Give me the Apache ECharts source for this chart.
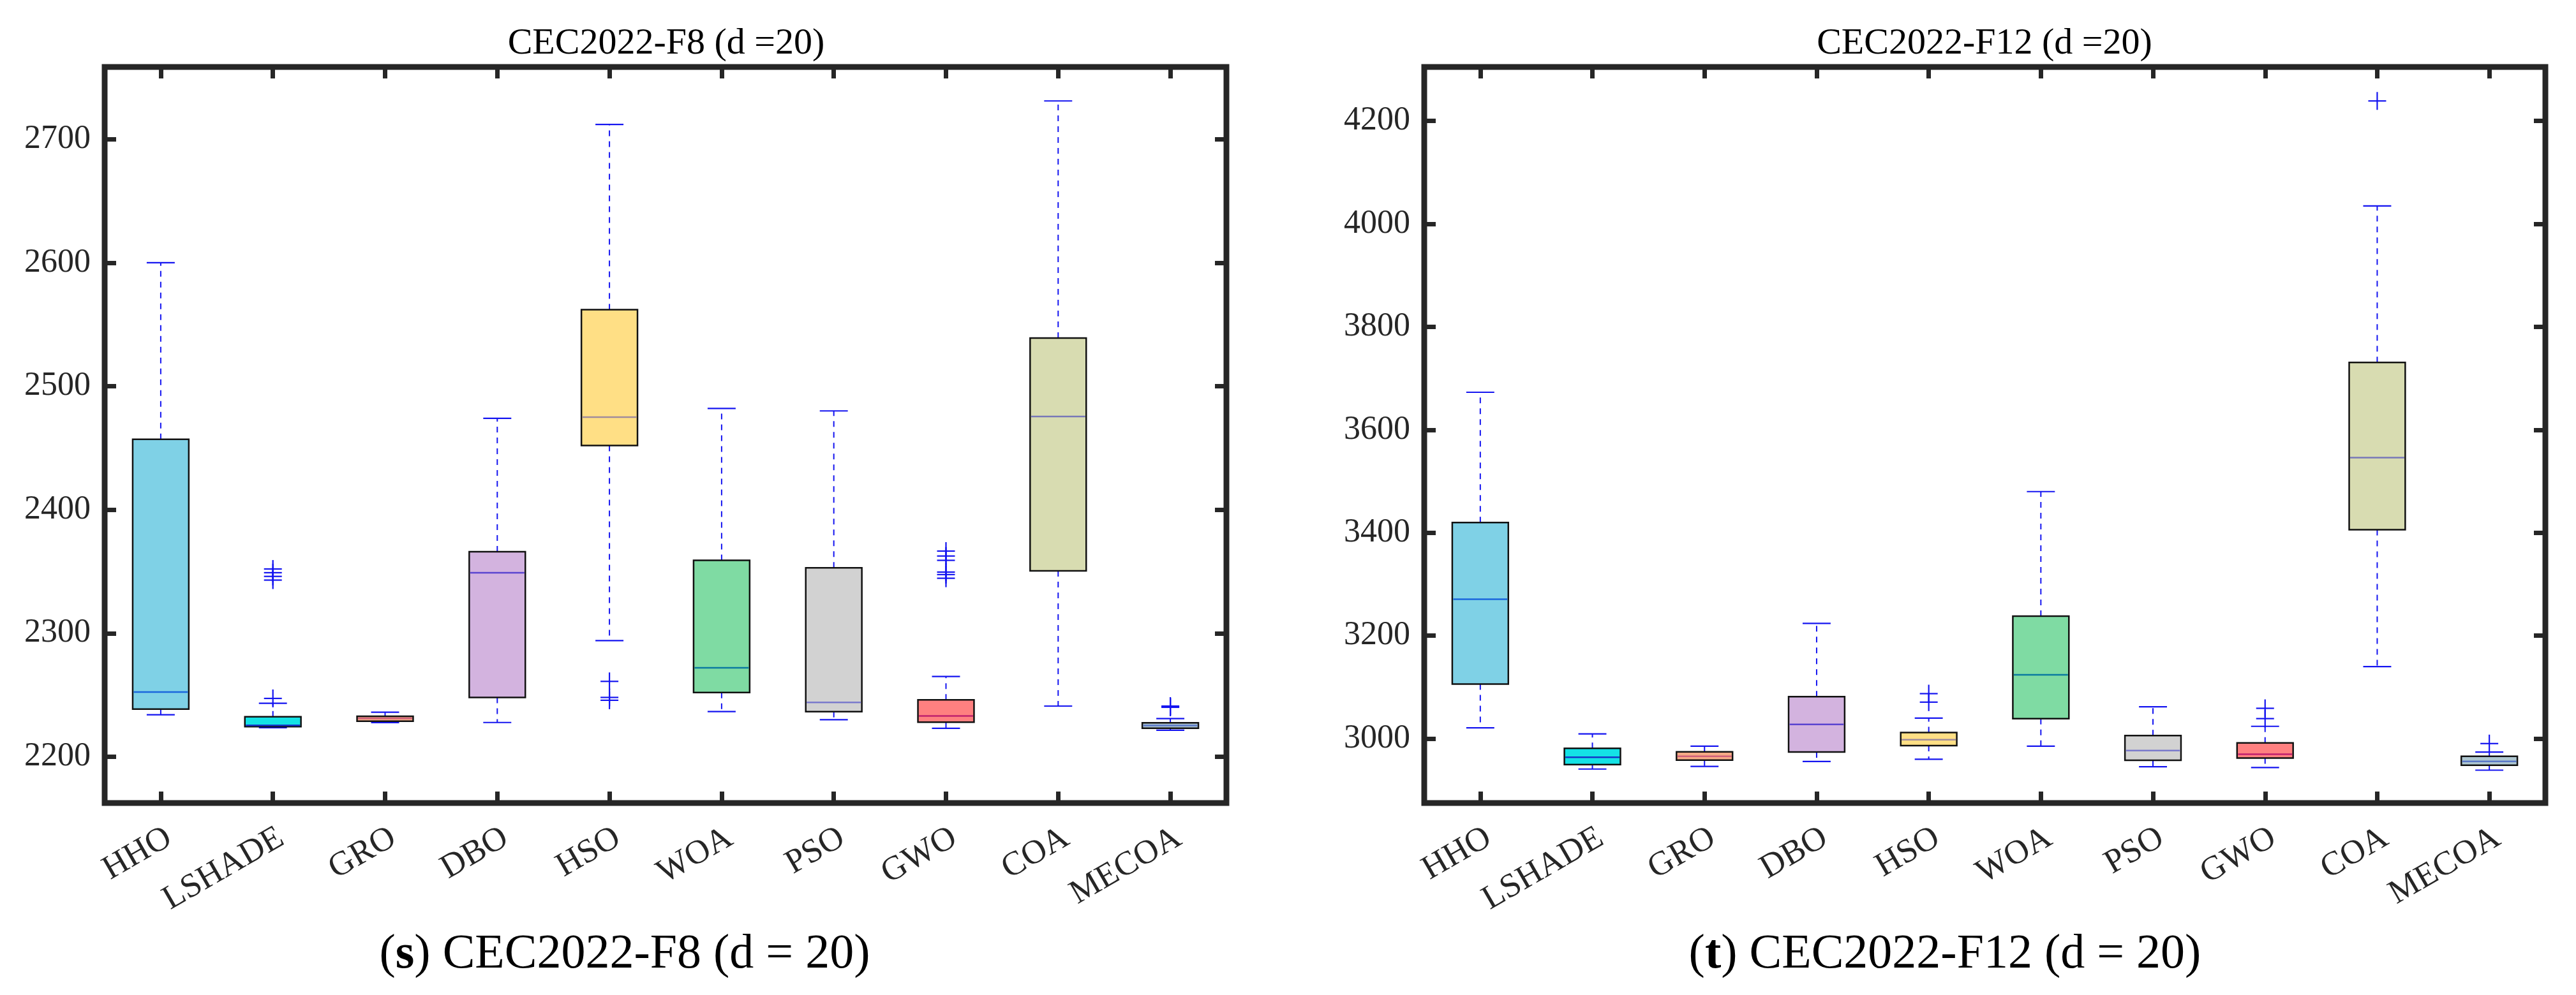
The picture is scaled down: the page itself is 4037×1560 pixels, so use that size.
<!DOCTYPE html>
<html>
<head>
<meta charset="utf-8">
<script src="https://cdn.jsdelivr.net/npm/echarts@6/dist/echarts.min.js"></script>
<style>
  html, body { margin: 0; padding: 0; background: #fff; }
  #main { width: 4037px; height: 1560px; }
</style>
</head>
<body>
<div id="main"></div>
<script>
var algos = ['HHO', 'LSHADE', 'GRO', 'DBO', 'HSO', 'WOA', 'PSO', 'GWO', 'COA', 'MECOA']

// box stats per algorithm: [lower whisker, q1, median, q3, upper whisker]
var f8Stats = [
    [2234, 2238.6, 2252.4, 2457, 2600],
    [2223.5, 2224.4, 2225.4, 2232.3, 2243.3],
    [2227.6, 2228.8, 2231, 2232.7, 2236],
    [2227.7, 2248, 2349, 2366, 2474],
    [2294, 2452, 2475, 2562, 2712],
    [2236.5, 2252, 2272, 2359, 2482],
    [2230, 2236.5, 2244, 2353, 2480],
    [2223, 2228, 2233, 2246, 2265],
    [2241, 2350.5, 2475.5, 2539, 2731],
    [2221.4, 2223.1, 2225.2, 2227.5, 2230.9]
]
var f8Outliers = [
    [],
    [2247.2, 2343, 2346, 2349, 2352],
    [],
    [],
    [2245.7, 2248, 2261],
    [],
    [],
    [2344.5, 2347.5, 2349.5, 2359, 2362.5, 2366.5],
    [],
    [2240, 2240.5, 2241]
]
var f12Stats = [
    [3021, 3106, 3271, 3420, 3673],
    [2941, 2949.6, 2964, 2981.4, 3009.4],
    [2946, 2958.3, 2965.7, 2974.4, 2985.5],
    [2955.8, 2974, 3027.6, 3081.7, 3224],
    [2960, 2986.4, 2998, 3012, 3040],
    [2985.5, 3039, 3124, 3238, 3480],
    [2945.5, 2958, 2977, 3006, 3062],
    [2944, 2962.4, 2969.8, 2991.7, 3024],
    [3140, 3406, 3546, 3731, 4035],
    [2938.8, 2948.3, 2955.8, 2965.7, 2974]
]
var f12Outliers = [
    [],
    [],
    [],
    [],
    [3071, 3087.5],
    [],
    [],
    [3039, 3059],
    [4239],
    [2990.5]
]
var f8Ticks = [2200, 2300, 2400, 2500, 2600, 2700]
var f12Ticks = [3000, 3200, 3400, 3600, 3800, 4000, 4200]
var f8Range = [2162.5, 2758.5]
var f12Range = [2875, 4305]

var fills = ['#7fd1e6', '#14e2e5', '#f5aa86', '#d3b3df', '#ffdf85', '#7fdba3', '#d2d2d2', '#ff8080', '#d8dcb1', '#aec6d0']
var medianColors = ['#1a66dd', '#1535c8', '#d0607a', '#5a44d0', '#a08c9c', '#0a7aa0', '#7a7acc', '#c0206e', '#7878b8', '#5a78c8']

var serif = "'Liberation Serif', 'Times New Roman', serif"
var whiskerColor = '#1414f0'
var frameColor = '#262626'

function boxRows(stats) {
    return stats.map(function (s, i) { return [i].concat(s) })
}
function outlierRows(outs) {
    var rows = []
    outs.forEach(function (vals, i) {
        vals.forEach(function (v) { rows.push([i, v]) })
    })
    return rows
}

function renderBox(params, api) {
    var i = api.value(0)
    var band = api.size([1, 0])[0]
    var half = band * 0.25
    var capHalf = band * 0.125
    var pLo = api.coord([i, api.value(1)])
    var pQ1 = api.coord([i, api.value(2)])
    var pMed = api.coord([i, api.value(3)])
    var pQ3 = api.coord([i, api.value(4)])
    var pHi = api.coord([i, api.value(5)])
    var x = pLo[0]
    var dash = { stroke: whiskerColor, lineWidth: 2, lineDash: [9, 8] }
    var solid = { stroke: whiskerColor, lineWidth: 2.2 }
    return {
        type: 'group',
        children: [
            { type: 'line', shape: { x1: x, y1: pQ3[1], x2: x, y2: pHi[1] }, style: dash },
            { type: 'line', shape: { x1: x, y1: pQ1[1], x2: x, y2: pLo[1] }, style: dash },
            { type: 'line', shape: { x1: x - capHalf, y1: pHi[1], x2: x + capHalf, y2: pHi[1] }, style: solid },
            { type: 'line', shape: { x1: x - capHalf, y1: pLo[1], x2: x + capHalf, y2: pLo[1] }, style: solid },
            {
                type: 'rect',
                shape: { x: x - half, y: pQ3[1], width: half * 2, height: pQ1[1] - pQ3[1] },
                style: { fill: fills[i], stroke: '#111', lineWidth: 2.5 }
            },
            {
                type: 'line',
                shape: { x1: x - half + 1.5, y1: pMed[1], x2: x + half - 1.5, y2: pMed[1] },
                style: { stroke: medianColors[i], lineWidth: 2.5 }
            }
        ]
    }
}

function renderPlus(params, api) {
    var p = api.coord([api.value(0), api.value(1)])
    var r = 14
    var st = { stroke: whiskerColor, lineWidth: 2.2 }
    return {
        type: 'group',
        children: [
            { type: 'line', shape: { x1: p[0] - r, y1: p[1], x2: p[0] + r, y2: p[1] }, style: st },
            { type: 'line', shape: { x1: p[0], y1: p[1] - r, x2: p[0], y2: p[1] + r }, style: st }
        ]
    }
}

var tickStyle = { show: true, inside: true, length: 18, lineStyle: { color: frameColor, width: 7 } }
var plainNum = function (v) { return String(v) }

function xAxes(gridIndex) {
    return [{
        type: 'category', gridIndex: gridIndex, position: 'bottom', data: algos, boundaryGap: true,
        axisLine: { show: false },
        axisTick: Object.assign({ alignWithLabel: true }, tickStyle),
        axisLabel: {
            rotate: 30, margin: 28, interval: 0, align: 'right', verticalAlign: 'top',
            fontFamily: serif, fontSize: 53, color: frameColor
        },
        splitLine: { show: false }
    }, {
        type: 'category', gridIndex: gridIndex, position: 'top', data: algos, boundaryGap: true,
        axisLine: { show: false },
        axisTick: Object.assign({ alignWithLabel: true }, tickStyle),
        axisLabel: { show: false },
        splitLine: { show: false }
    }]
}
function yAxes(gridIndex, range, ticks) {
    return [{
        type: 'value', gridIndex: gridIndex, position: 'left', min: range[0], max: range[1],
        axisLine: { show: false },
        axisTick: Object.assign({ customValues: ticks }, tickStyle),
        axisLabel: { customValues: ticks, formatter: plainNum, margin: 22, fontFamily: serif, fontSize: 52, color: frameColor },
        splitLine: { show: false }
    }, {
        type: 'value', gridIndex: gridIndex, position: 'right', min: range[0], max: range[1],
        axisLine: { show: false },
        axisTick: Object.assign({ customValues: ticks }, tickStyle),
        axisLabel: { show: false },
        splitLine: { show: false }
    }]
}

var myChart = echarts.init(document.getElementById('main'), null, { renderer: 'canvas' })
myChart.setOption({
    backgroundColor: '#fff',
    animation: false,
    grid: [
        { left: 164, top: 105, width: 1758, height: 1154, show: true, borderColor: frameColor, borderWidth: 9, backgroundColor: '#fff' },
        { left: 2232, top: 105, width: 1757, height: 1154, show: true, borderColor: frameColor, borderWidth: 9, backgroundColor: '#fff' }
    ],
    xAxis: xAxes(0).concat(xAxes(1)),
    yAxis: yAxes(0, f8Range, f8Ticks).concat(yAxes(1, f12Range, f12Ticks)),
    graphic: [
        { type: 'text', x: 1044, y: 69, style: { text: 'CEC2022-F8 (d =20)', fontFamily: serif, fontSize: 58, fill: '#000', align: 'center', verticalAlign: 'middle' } },
        { type: 'text', x: 3110, y: 69, style: { text: 'CEC2022-F12 (d =20)', fontFamily: serif, fontSize: 58, fill: '#000', align: 'center', verticalAlign: 'middle' } },
        {
            type: 'text', x: 979, y: 1497,
            style: {
                text: '({b|s}) CEC2022-F8 (d = 20)', fontFamily: serif, fontSize: 76, fill: '#000', align: 'center', verticalAlign: 'middle',
                rich: { b: { fontFamily: serif, fontSize: 76, fontWeight: 'bold', fill: '#000' } }
            }
        },
        {
            type: 'text', x: 3048, y: 1497,
            style: {
                text: '({b|t}) CEC2022-F12 (d = 20)', fontFamily: serif, fontSize: 76, fill: '#000', align: 'center', verticalAlign: 'middle',
                rich: { b: { fontFamily: serif, fontSize: 76, fontWeight: 'bold', fill: '#000' } }
            }
        }
    ],
    series: [
        { type: 'custom', name: 'F8', xAxisIndex: 0, yAxisIndex: 0, renderItem: renderBox, encode: { x: 0, y: [1, 2, 3, 4, 5] }, data: boxRows(f8Stats), clip: false, z: 3 },
        { type: 'custom', name: 'F8 outliers', xAxisIndex: 0, yAxisIndex: 0, renderItem: renderPlus, encode: { x: 0, y: 1 }, data: outlierRows(f8Outliers), clip: false, z: 4 },
        { type: 'custom', name: 'F12', xAxisIndex: 2, yAxisIndex: 2, renderItem: renderBox, encode: { x: 0, y: [1, 2, 3, 4, 5] }, data: boxRows(f12Stats), clip: false, z: 3 },
        { type: 'custom', name: 'F12 outliers', xAxisIndex: 2, yAxisIndex: 2, renderItem: renderPlus, encode: { x: 0, y: 1 }, data: outlierRows(f12Outliers), clip: false, z: 4 }
    ]
})
</script>
</body>
</html>
